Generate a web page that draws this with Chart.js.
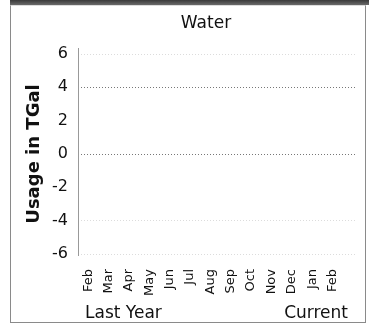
<!DOCTYPE html>
<html lang="en">
<head>
  <meta charset="UTF-8">
  <script src="https://cdn.jsdelivr.net/npm/chart.js"></script>
  <title>Water</title>
  <style>
    body { margin: 0; background: #fff; }
    #band { position: absolute; left: 10px; top: 0; width: 359px; height: 5px; background: linear-gradient(#3a3a3a, #6a6a6a); }
    #frame { position: absolute; left: 10px; top: 5px; width: 354px; height: 316px; border: 1px solid #8a8a8a; border-top: 1px solid #ddd; }
    #waterChart { position: absolute; left: 0; top: 0; }
  </style>
</head>
<body>

<div id="band"></div>
<div id="frame"></div>
<canvas id="waterChart" width="369" height="328"></canvas>

<script>
  // months from last year's Feb through the current Feb
  const months = ['Feb', 'Mar', 'Apr', 'May', 'Jun', 'Jul', 'Aug', 'Sep', 'Oct', 'Nov', 'Dec', 'Jan', 'Feb'];
  // no usage plotted in the picture
  const usage = [null, null, null, null, null, null, null, null, null, null, null, null, null];
  const yTicks = [-6, -4, -2, 0, 2, 4, 6];
  const darkLines = [4, 0];
  const lightLines = [6, -4, -6];

  const font = 'DejaVu Sans';

  // title and the two bottom captions
  const captions = {
    id: 'captions',
    afterDraw(chart) {
      const c = chart.ctx;
      c.save();
      c.fillStyle = '#111';
      c.font = '17px "' + font + '"';
      c.textBaseline = 'alphabetic';
      c.textAlign = 'center';
      c.fillText('Water', 206, 28);
      c.textAlign = 'left';
      c.fillText('Last Year', 85, 318);
      c.textAlign = 'right';
      c.fillText('Current', 348, 318);
      c.restore();
    }
  };

  // the y axis line stays solid, grid lines are dotted
  const solidAxis = {
    id: 'solidAxis',
    afterDraw(chart) {
      const a = chart.chartArea;
      const c = chart.ctx;
      c.save();
      c.strokeStyle = '#999';
      c.lineWidth = 1;
      c.beginPath();
      c.moveTo(a.left + 0.5, a.top - 6);
      c.lineTo(a.left + 0.5, a.bottom + 2);
      c.stroke();
      c.restore();
    }
  };

  let ctx = document.getElementById('waterChart');
  const waterChart = new Chart(ctx, {
    type: 'line',
    data: {
      datasets: [{
        label: 'Usage',
        data: months.map((m, i) => ({ x: i, y: usage[i] })),
        borderColor: '#3366cc',
        pointRadius: 0
      }]
    },
    options: {
      responsive: false,
      animation: false,
      layout: { padding: { top: 54, left: 10, right: 12, bottom: 0 } },
      plugins: {
        legend: { display: false },
        tooltip: { enabled: false }
      },
      scales: {
        x: {
          type: 'linear',
          min: -0.5,
          max: 13.2,
          afterBuildTicks: (scale) => { scale.ticks = months.map((m, i) => ({ value: i })); },
          afterFit: (scale) => { scale.height = 74; },
          grid: { display: false },
          border: { display: false },
          ticks: {
            autoSkip: false,
            minRotation: 90,
            maxRotation: 90,
            padding: 7,
            color: '#111',
            font: { family: font, size: 13 },
            callback: (v) => months[v]
          }
        },
        y: {
          min: -6,
          max: 6,
          afterBuildTicks: (scale) => { scale.ticks = yTicks.map(v => ({ value: v })); },
          afterFit: (scale) => { scale.width = 68; },
          border: { display: false, dash: [1, 2] },
          grid: {
            drawTicks: false,
            lineWidth: 1,
            color: (c) => {
              const v = c.tick ? c.tick.value : null;
              if (darkLines.includes(v)) return '#777';
              if (lightLines.includes(v)) return '#dcdcdc';
              return 'rgba(0,0,0,0)';
            }
          },
          ticks: {
            padding: 10,
            color: '#111',
            font: { family: font, size: 16 }
          },
          title: {
            display: true,
            text: 'Usage in TGal',
            color: '#111',
            font: { family: font, size: 18, weight: 'bold' },
            padding: { top: 14, bottom: 0 }
          }
        }
      }
    },
    plugins: [captions, solidAxis]
  });
</script>

</body>
</html>
